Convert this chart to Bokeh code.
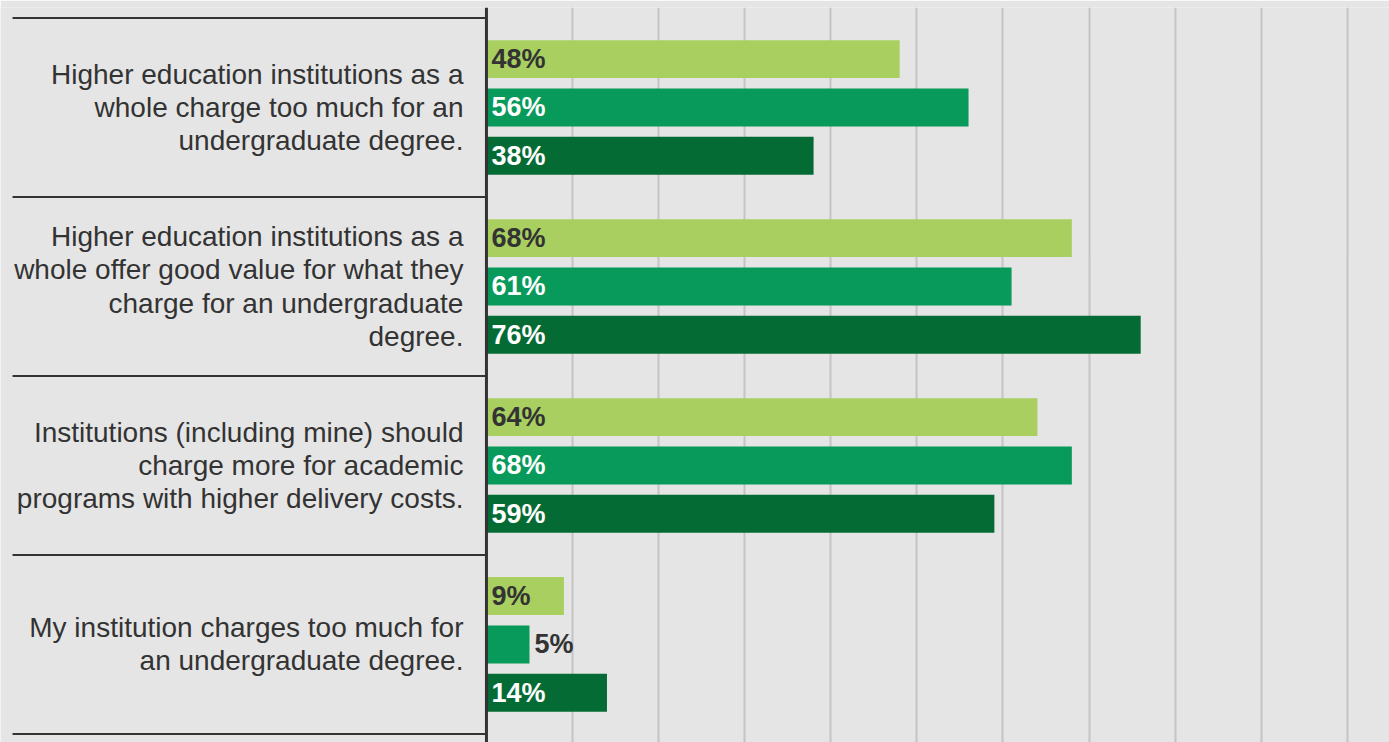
from bokeh.plotting import figure
from bokeh.models import ColumnDataSource, Range1d, FixedTicker, Span
from bokeh.transform import dodge
from bokeh.core.properties import value
from bokeh.embed import file_html
from bokeh.resources import INLINE

# ---- data ----
statements = [
    "Higher education institutions as a\nwhole charge too much for an\nundergraduate degree.",
    "Higher education institutions as a\nwhole offer good value for what they\ncharge for an undergraduate\ndegree.",
    "Institutions (including mine) should\ncharge more for academic\nprograms with higher delivery costs.",
    "My institution charges too much for\nan undergraduate degree.",
]
series_names = ["Group A", "Group B", "Group C"]
series_1 = [48, 68, 64, 9]
series_2 = [56, 61, 68, 5]
series_3 = [38, 76, 59, 14]
grid_ticks = [10, 20, 30, 40, 50, 60, 70, 80, 90, 100]

# ---- style ----
BG = "#e5e5e5"
COLORS = ["#a8cf60", "#079a5b", "#056b34"]
LABEL_COLORS = ["#333333", "#ffffff", "#ffffff"]
OFFSETS = [-0.27, 0.0, 0.27]
FONT = "Liberation Sans"

p = figure(width=1389, height=742, output_backend="svg", toolbar_location=None,
           x_range=Range1d(-56.45, 104.9), y_range=Range1d(3.548, -0.5585),
           min_border_left=0, min_border_right=0, min_border_top=7, min_border_bottom=0)
p.background_fill_color = BG
p.border_fill_color = BG
p.outline_line_color = None
p.xaxis.visible = False
p.yaxis.visible = False
p.ygrid.grid_line_color = None
p.xgrid.ticker = FixedTicker(ticks=grid_ticks)
p.xgrid.grid_line_color = "#c4c4c4"
p.xgrid.grid_line_width = 2

ys = list(range(len(statements)))

# separators between statements
sep_y = [i - 0.5 for i in range(len(statements) + 1)]
p.segment(x0=[-55.05] * len(sep_y), x1=[0] * len(sep_y), y0=sep_y, y1=sep_y,
          line_color="#333333", line_width=2)

# statement texts
p.text(x=[0] * len(ys), y=ys, text=statements, x_offset=-23,
       text_align="right", text_baseline="middle",
       text_font=value(FONT), text_font_size="28px", text_color="#333333",
       text_line_height=1.07)

for k, vals in enumerate([series_1, series_2, series_3]):
    src = ColumnDataSource(dict(
        y=ys, v=vals,
        lx=[0 if v >= 8 else v for v in vals],
        lc=[LABEL_COLORS[k] if v >= 8 else "#333333" for v in vals],
        lab=[f"{v}%" for v in vals],
    ))
    p.hbar(y=dodge("y", OFFSETS[k], range=p.y_range), left=0, right="v", height=0.212,
           source=src, fill_color=COLORS[k], line_color=None, legend_label=series_names[k])
    p.text(x="lx", y=dodge("y", OFFSETS[k], range=p.y_range), text="lab", source=src,
           x_offset=5, text_align="left", text_baseline="middle",
           text_font=value(FONT), text_font_style="bold", text_font_size="27px",
           text_color="lc")

p.legend.visible = False

# value axis line
p.add_layout(Span(location=0, dimension="height", line_color="#333333", line_width=3))

open("out.html", "w").write(file_html(p, INLINE))
